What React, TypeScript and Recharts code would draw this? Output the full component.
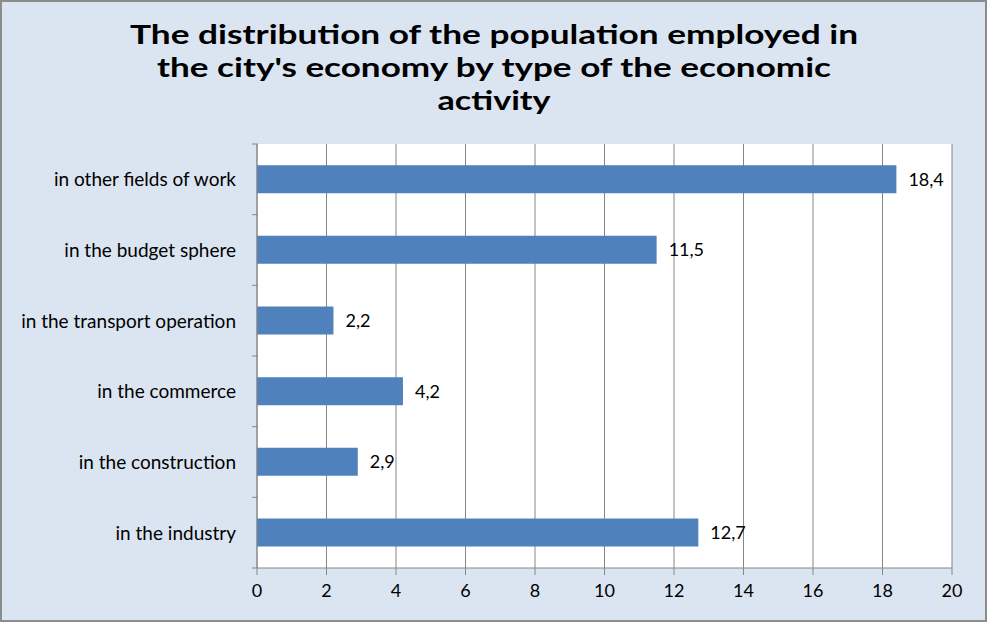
import React from "react";
import { BarChart, Bar, XAxis, YAxis, CartesianGrid, LabelList } from "recharts";

const categories = [
  "in other fields of work",
  "in the budget sphere",
  "in the transport operation",
  "in the commerce",
  "in the construction",
  "in the industry",
];
const values = [18.4, 11.5, 2.2, 4.2, 2.9, 12.7];
const xTicks = [0, 2, 4, 6, 8, 10, 12, 14, 16, 18, 20];
const titleLines = [
  "The distribution of the population employed in",
  "the city's economy by type of the economic",
  "activity",
];
const titleWidths = [728, 674, 113];

const data = categories.map((name, i) => ({ name, value: values[i] }));

const W = 989;
const H = 624;
const PLOT_TOP = 144;
const PLOT_BOTTOM = 568;
const BAND = (PLOT_BOTTOM - PLOT_TOP) / categories.length;
const FONT = "Lato, 'Open Sans', sans-serif";
const AXIS = "#868686";

const YTick = (props: any) => {
  const { x, y, payload, index } = props;
  return (
    <g>
      <line x1={x + 3} x2={x + 9} y1={y - BAND / 2} y2={y - BAND / 2} stroke={AXIS} />
      {index === categories.length - 1 && (
        <line x1={x + 3} x2={x + 9} y1={y + BAND / 2} y2={y + BAND / 2} stroke={AXIS} />
      )}
      <text x={x - 13} y={y} dy={7} textAnchor="end" fontSize={19} fill="#000" fontFamily={FONT}>
        {payload.value}
      </text>
    </g>
  );
};

export default function App() {
  return (
    <div
      style={{
        position: "absolute",
        left: 0,
        top: 0,
        width: W - 2,
        height: H - 2,
        background: "#dbe5f1",
        border: "2px solid #8c8c8c",
        boxSizing: "border-box",
      }}
    >
      <div style={{ position: "absolute", left: -2, top: -2 }}>
        <BarChart
          width={W}
          height={H}
          data={data}
          layout="vertical"
          margin={{ top: PLOT_TOP, right: 37, bottom: H - PLOT_BOTTOM - 40, left: 10 }}
          barCategoryGap="30%"
        >
          <CartesianGrid horizontal={false} stroke={AXIS} fill="#ffffff" />
          <XAxis
            type="number"
            domain={[0, 20]}
            ticks={xTicks}
            interval={0}
            height={40}
            stroke={AXIS}
            tickSize={7}
            tickMargin={9}
            tick={{ fill: "#000", fontSize: 18, fontFamily: FONT }}
          />
          <YAxis
            type="category"
            dataKey="name"
            width={247}
            stroke={AXIS}
            tickLine={false}
            tick={<YTick />}
            interval={0}
          />
          <Bar dataKey="value" fill="#4f81bd" isAnimationActive={false}>
            <LabelList
              dataKey="value"
              position="right"
              offset={12}
              formatter={(v: any) => String(v).replace(".", ",")}
              style={{ fill: "#000", fontSize: 18, fontFamily: FONT }}
            />
          </Bar>
        </BarChart>
      </div>
      <svg
        width={W}
        height={130}
        style={{ position: "absolute", left: -2, top: -2 }}
      >
        {titleLines.map((l, i) => (
          <text
            key={i}
            x={494}
            y={44 + i * 33}
            textAnchor="middle"
            fontFamily={FONT}
            fontWeight={700}
            fontSize={27}
            fill="#000"
            textLength={titleWidths[i]}
            lengthAdjust="spacingAndGlyphs"
          >
            {l}
          </text>
        ))}
      </svg>
    </div>
  );
}
